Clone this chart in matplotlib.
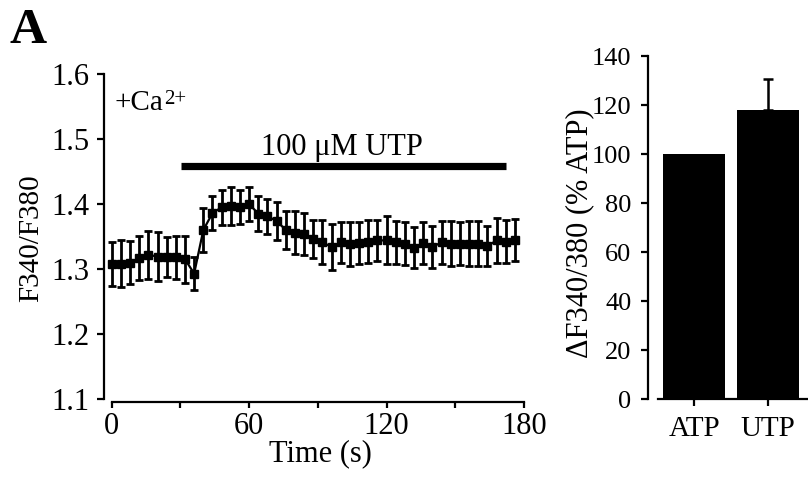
import matplotlib
matplotlib.use("Agg")
import matplotlib.pyplot as plt

plt.rcParams['font.family'] = ['Liberation Serif', 'DejaVu Serif']

# ---- data: time course ----
time_s = [0, 4, 8, 12, 16, 20, 24, 28, 32, 36, 40, 44, 48, 52, 56, 60, 64, 68, 72, 76,
          80, 84, 88, 92, 96, 100, 104, 108, 112, 116, 120, 124, 128, 132, 136, 140,
          144, 148, 152, 156, 160, 164, 168, 172, 176]
ratio = [1.308, 1.308, 1.310, 1.317, 1.322, 1.319, 1.318, 1.318, 1.315, 1.293,
         1.360, 1.386, 1.395, 1.397, 1.395, 1.400, 1.385, 1.381, 1.374, 1.360,
         1.356, 1.354, 1.346, 1.341, 1.334, 1.341, 1.339, 1.340, 1.342, 1.344,
         1.344, 1.341, 1.339, 1.333, 1.340, 1.334, 1.341, 1.339, 1.339, 1.339,
         1.339, 1.335, 1.344, 1.342, 1.345]
ratio_err = [0.034, 0.036, 0.033, 0.034, 0.037, 0.038, 0.031, 0.033, 0.036, 0.025,
             0.034, 0.026, 0.027, 0.029, 0.026, 0.026, 0.027, 0.027, 0.029, 0.029,
             0.033, 0.032, 0.029, 0.034, 0.036, 0.031, 0.034, 0.033, 0.033, 0.031,
             0.037, 0.033, 0.033, 0.031, 0.033, 0.032, 0.033, 0.035, 0.033, 0.035,
             0.035, 0.031, 0.034, 0.033, 0.032]
utp_bar_start, utp_bar_end, utp_bar_y = 30.3, 172.2, 1.4588
x_ticks = [0, 30, 60, 90, 120, 150, 180]
x_ticklabels = ['0', '', '60', '', '120', '', '180']
y_ticks = [1.1, 1.2, 1.3, 1.4, 1.5, 1.6]
y_ticklabels = ['1.1', '1.2', '1.3', '1.4', '1.5', '1.6']

# ---- data: bar chart ----
bar_labels = ['ATP', 'UTP']
bar_values = [100, 118]
bar_err = [0, 12.5]
bar_yticks = [0, 20, 40, 60, 80, 100, 120, 140]

W, H = 808, 484
fig = plt.figure(figsize=(W / 100, H / 100), dpi=100)

LW = 1.6
FS_TICK = 22

# ---- left panel ----
ax = fig.add_axes([111.7 / W, (H - 399) / H, 412.3 / W, 325 / H])
ax.errorbar(time_s, ratio, yerr=ratio_err, color='black', marker='s', markersize=6,
            linewidth=1.6, elinewidth=2.0, capsize=2.7, capthick=2.0, clip_on=False)
ax.plot([utp_bar_start, utp_bar_end], [utp_bar_y, utp_bar_y], color='black',
        linewidth=5.2, solid_capstyle='butt')
ax.text(100.6, 1.4754, '100 μM UTP', ha='center', va='baseline', fontsize=22)
t_ca = ax.text(1.4, 1.5446, '+Ca', ha='left', va='baseline', fontsize=21)
ax.annotate('2+', xy=(1.0, 0.0), xycoords=t_ca, xytext=(0, 9), textcoords='offset points',
            ha='left', va='baseline', fontsize=15)
ax.set_xlim(0, 180)
ax.set_ylim(1.1, 1.6)
ax.set_xticks(x_ticks)
ax.set_xticklabels(x_ticklabels)
ax.set_yticks(y_ticks)
ax.set_yticklabels(y_ticklabels)
for s in ['top', 'right']:
    ax.spines[s].set_visible(False)
ax.spines['left'].set_position(('outward', 5.5))
ax.spines['bottom'].set_position(('outward', 2.2))
for s in ['left', 'bottom']:
    ax.spines[s].set_linewidth(LW)
ax.tick_params(axis='y', direction='out', length=5, width=LW, labelsize=FS_TICK, pad=5.5)
ax.tick_params(axis='x', direction='out', length=4, width=LW, labelsize=FS_TICK, pad=3.5)

fig.text(320 / W, (H - 461) / H, 'Time (s)', fontsize=22, ha='center', va='baseline')
fig.text(31 / W, (H - 238) / H, 'F340/F380', fontsize=21, ha='center', va='center',
         rotation=90)

# ---- right panel ----
ax2 = fig.add_axes([658 / W, (H - 399.3) / H, 150 / W, 343.3 / H])
xpos = list(range(len(bar_labels)))
ax2.bar(xpos, bar_values, width=0.84, color='black')
err_x = [x for x, e in zip(xpos, bar_err) if e > 0]
err_y = [v for v, e in zip(bar_values, bar_err) if e > 0]
err_e = [e for e in bar_err if e > 0]
ax2.errorbar(err_x, err_y, yerr=[[0] * len(err_e), err_e], fmt='none', ecolor='black',
             elinewidth=1.8, capsize=3.3, capthick=1.8)
ax2.set_xlim(-0.49, 1.54)
ax2.set_ylim(0, 140)
ax2.set_xticks(xpos)
ax2.set_xticklabels(bar_labels, fontsize=21)
ax2.set_yticks(bar_yticks)
for s in ['top', 'right']:
    ax2.spines[s].set_visible(False)
ax2.spines['left'].set_position(('outward', 7))
for s in ['left', 'bottom']:
    ax2.spines[s].set_linewidth(LW)
ax2.tick_params(axis='y', direction='out', length=5, width=LW, labelsize=19, pad=7)
ax2.tick_params(axis='x', direction='out', length=5, width=LW, labelsize=21, pad=7)

fig.text(580 / W, (H - 233) / H, 'ΔF340/380 (% ATP)', fontsize=22, ha='center',
         va='center', rotation=90)

fig.text(10 / W, (H - 43) / H, 'A', fontsize=37, fontweight='bold', ha='left', va='baseline')

fig.savefig('out.png', dpi=100)
